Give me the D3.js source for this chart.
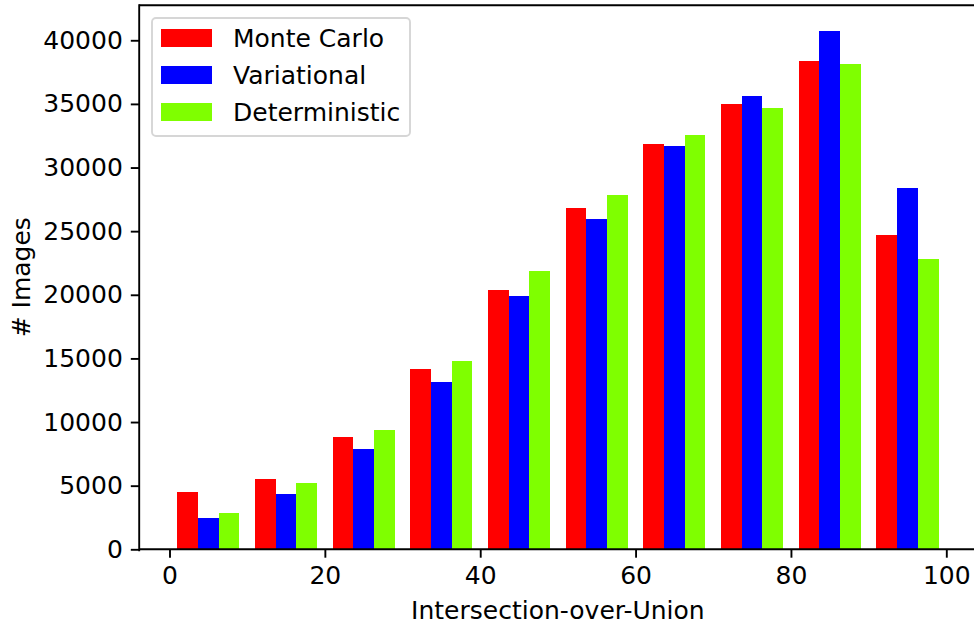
<!DOCTYPE html>
<html>
<head>
<meta charset="utf-8">
<script src="https://cdn.jsdelivr.net/npm/d3@7"></script>
<style>
  html, body { margin: 0; padding: 0; background: #fff; }
  svg text { font-family: "DejaVu Sans", sans-serif; fill: #000; }
</style>
</head>
<body>
<svg id="chart" width="974" height="626"></svg>
<script>
// Data
const binEdges = [0, 10, 20, 30, 40, 50, 60, 70, 80, 90, 100];
const seriesNames = ["Monte Carlo", "Variational", "Deterministic"];
const seriesColors = ["#ff0000", "#0000ff", "#7fff00"];
const monteCarlo    = [4510, 5530, 8840, 14200, 20340, 26800, 31840, 34990, 38360, 24670];
const variational   = [2470, 4350, 7900, 13170, 19870, 25930, 31680, 35610, 40720, 28370];
const deterministic = [2860, 5220, 9390, 14830, 21840, 27820, 32540, 34670, 38120, 22780];
const seriesValues = [monteCarlo, variational, deterministic];
const xTicks = [0, 20, 40, 60, 80, 100];
const yTicks = [0, 5000, 10000, 15000, 20000, 25000, 30000, 35000, 40000];

(function () {
const svg = d3.select("#chart");
const pL = 139.2, pT = 5.2, pB = 549.3, pR = 976.6;

const nS = seriesValues.length;
const binW = binEdges[1] - binEdges[0];
const barW = binW * 0.8 / nS;
const dataMin = binEdges[0] + binW * 0.1;
const dataMax = binEdges[binEdges.length - 1] - binW * 0.1;
const pad = (dataMax - dataMin) * 0.05;

const x = d3.scaleLinear().domain([dataMin - pad, dataMax + pad]).range([pL, pR]);
const yMax = d3.max(seriesValues.flat()) * 1.05;
const y = d3.scaleLinear().domain([0, yMax]).range([pB, pT]);

// Bars
seriesValues.forEach((vals, si) => {
  svg.append("g").selectAll("rect").data(vals).join("rect")
    .attr("x", (d, j) => x(binEdges[j] + binW * 0.1 + si * barW))
    .attr("width", (d, j) => x(binEdges[j] + binW * 0.1 + (si + 1) * barW) - x(binEdges[j] + binW * 0.1 + si * barW))
    .attr("y", d => y(d))
    .attr("height", d => y(0) - y(d))
    .attr("fill", seriesColors[si])
    .attr("shape-rendering", "crispEdges");
});

// Axes
const fs = 25;
const xAxis = d3.axisBottom(x).tickValues(xTicks).tickSize(8.4).tickPadding(8).tickFormat(d3.format("d"));
const gx = svg.append("g").attr("transform", `translate(0,${pB})`).call(xAxis);
gx.select(".domain").remove();
gx.selectAll(".tick line").attr("stroke", "#000").attr("stroke-width", 1.9);
gx.selectAll(".tick text").attr("font-size", fs).attr("font-family", "DejaVu Sans").attr("dy", "0.74em");

const yAxis = d3.axisLeft(y).tickValues(yTicks).tickSize(8.4).tickPadding(8).tickFormat(d3.format("d"));
const gy = svg.append("g").attr("transform", `translate(${pL},0)`).call(yAxis);
gy.select(".domain").remove();
gy.selectAll(".tick line").attr("stroke", "#000").attr("stroke-width", 1.9);
gy.selectAll(".tick text").attr("font-size", fs).attr("font-family", "DejaVu Sans");

// Spines
const sp = svg.append("g").attr("stroke", "#000").attr("stroke-width", 1.9).attr("fill", "none");
sp.append("line").attr("x1", pL).attr("x2", pL).attr("y1", pT).attr("y2", pB + 0.95).attr("stroke-linecap", "square");
sp.append("line").attr("x1", pL).attr("x2", pR).attr("y1", pB).attr("y2", pB);
sp.append("line").attr("x1", pL).attr("x2", pR).attr("y1", pT).attr("y2", pT);
sp.append("line").attr("x1", pR).attr("x2", pR).attr("y1", pT).attr("y2", pB);

// Axis labels
svg.append("text").attr("x", (pL + pR) / 2).attr("y", 619)
  .attr("text-anchor", "middle").attr("font-size", fs).text("Intersection-over-Union");
svg.append("text").attr("transform", `translate(30,${(pT + pB) / 2}) rotate(-90)`)
  .attr("text-anchor", "middle").attr("font-size", fs).text("# Images");

// Legend
const lg = svg.append("g");
lg.append("rect").attr("x", 152).attr("y", 18).attr("width", 258).attr("height", 118)
  .attr("rx", 4).attr("fill", "#fff").attr("fill-opacity", 0.8)
  .attr("stroke", "#d6d6d6").attr("stroke-width", 1.9);
seriesNames.forEach((name, i) => {
  const cy = 38 + i * 37;
  lg.append("rect").attr("x", 161).attr("y", cy - 9).attr("width", 51).attr("height", 18)
    .attr("fill", seriesColors[i]);
  lg.append("text").attr("x", 233).attr("y", cy + 9).attr("font-size", fs).text(name);
});
})();
</script>
</body>
</html>
